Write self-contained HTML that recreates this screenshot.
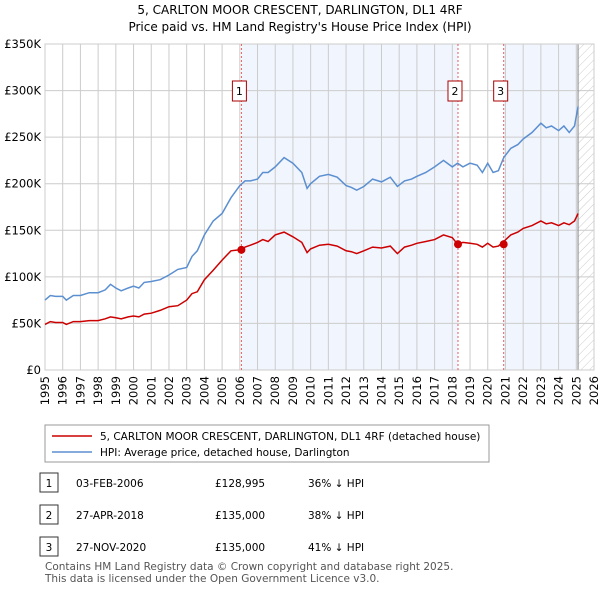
<!DOCTYPE html>
<html><head><meta charset="utf-8"><style>
body{margin:0;background:#fff;font-family:"Liberation Sans","DejaVu Sans",sans-serif;}
svg text{font-family:"DejaVu Sans","Liberation Sans",sans-serif;}
</style></head><body>
<svg id="c" width="600" height="590" xmlns="http://www.w3.org/2000/svg">
<defs><pattern id="hatch" width="6" height="6" patternUnits="userSpaceOnUse" patternTransform="rotate(45)"><line x1="0" y1="0" x2="0" y2="6" stroke="#ccc" stroke-width="1"/></pattern></defs>
<text x="300" y="14" text-anchor="middle" font-size="12" fill="#000">5, CARLTON MOOR CRESCENT, DARLINGTON, DL1 4RF</text>
<text x="300" y="31" text-anchor="middle" font-size="12" fill="#000">Price paid vs. HM Land Registry's House Price Index (HPI)</text>
<g id="plot"></g>
<g>
<rect x="45" y="425" width="444" height="37" fill="#fff" stroke="#999"/>
<line x1="52" y1="436" x2="92" y2="436" stroke="#cc0000" stroke-width="1.5"/>
<text x="100" y="440" font-size="10.5">5, CARLTON MOOR CRESCENT, DARLINGTON, DL1 4RF (detached house)</text>
<line x1="52" y1="452" x2="92" y2="452" stroke="#5b8fd0" stroke-width="1.5"/>
<text x="100" y="456" font-size="10.5">HPI: Average price, detached house, Darlington</text>
</g>
<g id="table" font-size="10.5"></g>
<text x="45" y="570" font-size="10.5" fill="#555">Contains HM Land Registry data © Crown copyright and database right 2025.</text>
<text x="45" y="582" font-size="10.5" fill="#555">This data is licensed under the Open Government Licence v3.0.</text>
</svg>
<script>
const years=[1995,1995.3,1995.6,1996,1996.2,1996.6,1997,1997.5,1998,1998.4,1998.7,1999,1999.3,1999.7,2000,2000.3,2000.6,2001,2001.5,2002,2002.5,2003,2003.3,2003.6,2004,2004.5,2005,2005.5,2006,2006.3,2006.6,2007,2007.3,2007.6,2008,2008.5,2009,2009.5,2009.8,2010,2010.5,2011,2011.5,2012,2012.3,2012.6,2013,2013.5,2014,2014.5,2014.9,2015.3,2015.7,2016,2016.5,2017,2017.5,2018,2018.3,2018.6,2019,2019.4,2019.7,2020,2020.3,2020.6,2020.9,2021.3,2021.7,2022,2022.5,2023,2023.3,2023.6,2024,2024.3,2024.6,2024.9,2025.1];
const hpi=[75,80,79,79,75,80,80,83,83,86,92,88,85,88,90,88,94,95,97,102,108,110,122,128,145,160,168,185,198,203,203,205,212,212,218,228,222,212,195,200,208,210,207,198,196,193,197,205,202,207,197,203,205,208,212,218,225,218,222,218,222,220,212,222,212,214,228,238,242,248,255,265,260,262,257,262,255,262,283];
const paid=[49,52,51,51,49,52,52,53,53,55,57,56,55,57,58,57,60,61,64,68,69,75,82,84,97,107,118,128,129,132,134,137,140,138,145,148,143,137,126,130,134,135,133,128,127,125,128,132,131,133,125,132,134,136,138,140,145,142,135,137,136,135,132,136,132,133,138,145,148,152,155,160,157,158,155,158,156,160,168];
const sales=[[2006.09,128995,'1'],[2018.32,135000,'2'],[2020.9,135000,'3']];
const yTicks=[0,50,100,150,200,250,300,350];
const yLabels=['£0','£50K','£100K','£150K','£200K','£250K','£300K','£350K'];
const rows=[['1','03-FEB-2006','£128,995','36% ↓ HPI'],['2','27-APR-2018','£135,000','38% ↓ HPI'],['3','27-NOV-2020','£135,000','41% ↓ HPI']];
const L=45,R=594,T=44,B=370,x0=1995,x1=2026;
const X=y=>L+(y-x0)/(x1-x0)*(R-L);
const Y=v=>B-v/350*(B-T);
const NS='http://www.w3.org/2000/svg';
const g=document.getElementById('plot');
function mk(t,a,p){const e=document.createElementNS(NS,t);for(const k in a)e.setAttribute(k,a[k]);(p||g).appendChild(e);return e;}
mk('rect',{x:L,y:T,width:R-L,height:B-T,fill:'#fff'});
let s1=mk('rect',{x:X(sales[0][0]),y:T,width:X(sales[1][0])-X(sales[0][0]),height:B-T,fill:'#eef3fc',opacity:0.8});


let s2=mk('rect',{x:X(sales[2][0]),y:T,width:X(2025.1)-X(sales[2][0]),height:B-T,fill:'#eef3fc',opacity:0.8});


let h=mk('rect',{x:X(2025.1),y:T,width:R-X(2025.1),height:B-T,fill:'url(#hatch)'});


for(let yr=1995;yr<=2026;yr++){
 mk('line',{x1:X(yr),x2:X(yr),y1:T,y2:B,stroke:'#ccc','stroke-width':1});
 const t=mk('text',{x:0,y:0,'font-size':11.5,'text-anchor':'end',transform:`translate(${X(yr)+4},${B+6}) rotate(-90)`});
 t.textContent=yr;
 
 
}
yTicks.forEach((v,i)=>{
 mk('line',{x1:L,x2:R,y1:Y(v),y2:Y(v),stroke:'#ccc','stroke-width':1});
 const t=mk('text',{x:L-4,y:Y(v)+4,'font-size':11.5,'text-anchor':'end'});
 t.textContent=yLabels[i];
 
 
});
mk('line',{x1:X(2025.1),x2:X(2025.1),y1:T,y2:B,stroke:'#888','stroke-width':1});
mk('rect',{x:L,y:T,width:R-L,height:B-T,fill:'none',stroke:'#ccc'});
sales.forEach(s=>{
 const l=mk('line',{x1:X(s[0]),x2:X(s[0]),y1:T,y2:B,stroke:'#e06060','stroke-dasharray':'2,2','stroke-width':1});
 
 
 const bx=s[2]==='1'?X(s[0])-9:X(s[0])-10;
 const r=mk('rect',{x:bx,y:81,width:14,height:20,fill:'#fff',stroke:'#aa0000'});
 
 
 const t=mk('text',{x:bx+7,y:95,'font-size':11,'text-anchor':'middle'});t.textContent=s[2];
 
 
});
const pathOf=a=>a.map((v,i)=>(i?'L':'M')+X(years[i]).toFixed(1)+','+Y(v).toFixed(1)).join('');
const hl=mk('path',{d:pathOf(hpi),fill:'none',stroke:'#5b8fd0','stroke-width':1.5});


const pl=mk('path',{d:pathOf(paid),fill:'none',stroke:'#cc0000','stroke-width':1.5});


sales.forEach(s=>{
 const c=mk('circle',{cx:X(s[0]),cy:Y(s[1]/1000),r:4,fill:'#cc0000'});
 
 
});
const tb=document.getElementById('table');
rows.forEach((r,i)=>{
 const y=483+i*32;
 const b=mk('rect',{x:40,y:y-10,width:18,height:19,fill:'#fff',stroke:'#333'},tb);
 
 
 const cols=[[49,'middle',r[0]],[76,'start',r[1]],[215,'start',r[2]],[308,'start',r[3]]];
 cols.forEach(c=>{const t=mk('text',{x:c[0],y:y+4,'text-anchor':c[1]},tb);t.textContent=c[2];
 
 });
});
</script>
</body></html>
